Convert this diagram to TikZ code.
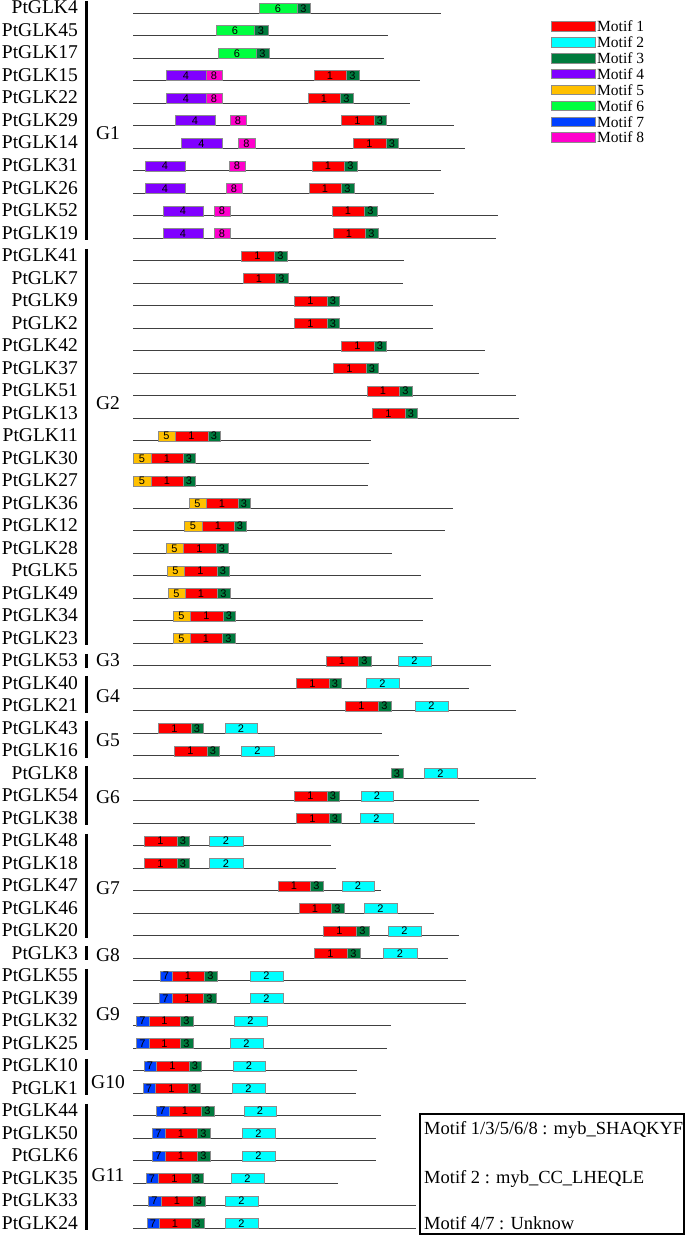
\documentclass[tikz,border=0pt]{standalone}
\usepackage{fontspec}
\setmainfont{Liberation Serif}
\setsansfont{Liberation Sans}
\usepackage{tikz}

\definecolor{m1}{RGB}{255,0,0}
\definecolor{m2}{RGB}{0,255,255}
\definecolor{m3}{RGB}{0,122,61}
\definecolor{m4}{RGB}{128,0,255}
\definecolor{m5}{RGB}{255,192,0}
\definecolor{m6}{RGB}{0,255,64}
\definecolor{m7}{RGB}{0,64,255}
\definecolor{m8}{RGB}{255,0,204}

\begin{document}
\begin{tikzpicture}[x=1pt,y=-1pt,
    genename/.style={anchor=base east, inner sep=0pt, font=\fontsize{19.5}{20}\selectfont},
    groupname/.style={inner sep=0pt, font=\fontsize{19.5}{20}\selectfont},
    geneline/.style={line width=1pt, black!75},
    groupbar/.style={line width=3pt},
    motifbox/.style={draw=black!45, line width=0.6pt, inner sep=0pt, outer sep=0pt,
        minimum height=10pt, anchor=south west, font=\sffamily\fontsize{11}{11}\selectfont},
    keybox/.style={draw=black!45, line width=0.6pt, inner sep=0pt, minimum width=44pt, minimum height=9.5pt},
    keytext/.style={anchor=west, inner sep=0pt, font=\fontsize{15.5}{16}\selectfont},
    notetext/.style={anchor=base west, inner sep=0pt, font=\fontsize{18.5}{19}\selectfont}]
\useasboundingbox (0,0) rectangle (685,1236);

% gene names and protein lines
\foreach \r/\name/\len in {1/PtGLK4/441, 2/PtGLK45/388, 3/PtGLK17/384, 4/PtGLK15/420,
    5/PtGLK22/410, 6/PtGLK29/454, 7/PtGLK14/465, 8/PtGLK31/441, 9/PtGLK26/434,
    10/PtGLK52/498, 11/PtGLK19/496, 12/PtGLK41/404, 13/PtGLK7/403, 14/PtGLK9/433,
    15/PtGLK2/433, 16/PtGLK42/485, 17/PtGLK37/479, 18/PtGLK51/516, 19/PtGLK13/519,
    20/PtGLK11/371, 21/PtGLK30/369, 22/PtGLK27/368, 23/PtGLK36/453, 24/PtGLK12/445,
    25/PtGLK28/392, 26/PtGLK5/421, 27/PtGLK49/433, 28/PtGLK34/423, 29/PtGLK23/423,
    30/PtGLK53/491, 31/PtGLK40/469, 32/PtGLK21/516, 33/PtGLK43/382, 34/PtGLK16/399,
    35/PtGLK8/536, 36/PtGLK54/479, 37/PtGLK38/475, 38/PtGLK48/331, 39/PtGLK18/336,
    40/PtGLK47/381, 41/PtGLK46/434, 42/PtGLK20/459, 43/PtGLK3/448, 44/PtGLK55/466,
    45/PtGLK39/466, 46/PtGLK32/391, 47/PtGLK25/387, 48/PtGLK10/357, 49/PtGLK1/356,
    50/PtGLK44/381, 51/PtGLK50/376, 52/PtGLK6/376, 53/PtGLK35/338, 54/PtGLK33/416,
    55/PtGLK24/416}{
  \pgfmathsetmacro\y{13.3+22.5*(\r-1)}
  \node[genename] (g\r) at (78,\y+0.7) {\name};
  \coordinate (s\r) at (133,\y);
  \coordinate (e\r) at (\len,\y);
  \draw[geneline] (s\r) -- (e\r);
}

% motif boxes: row/start/end/motif
\foreach \r/\a/\b/\m in {1/259/297/6, 1/297/310/3, 2/216/254/6, 2/254/268/3,
    3/218/256/6, 3/256/269/3,
    4/166/206/4, 4/206/222/8, 4/314/346/1, 4/346/359/3,
    5/166/206/4, 5/206/222/8, 5/308/340/1, 5/340/353/3,
    6/175/215/4, 6/230/246/8, 6/341/374/1, 6/374/386/3,
    7/181/222/4, 7/238/255/8, 7/353/386/1, 7/386/398/3,
    8/145/185/4, 8/229/245/8, 8/312/344/1, 8/344/357/3,
    9/145/185/4, 9/226/242/8, 9/309/341/1, 9/341/354/3,
    10/163/203/4, 10/214/230/8, 10/332/364/1, 10/364/377/3,
    11/163/203/4, 11/214/230/8, 11/333/365/1, 11/365/378/3,
    12/241/274/1, 12/274/287/3, 13/243/275/1, 13/275/288/3,
    14/294/327/1, 14/327/339/3, 15/294/327/1, 15/327/339/3,
    16/341/374/1, 16/374/386/3, 17/333/366/1, 17/366/378/3,
    18/367/399/1, 18/399/412/3, 19/372/405/1, 19/405/417/3,
    20/158/175/5, 20/175/208/1, 20/208/220/3,
    21/133/151/5, 21/151/183/1, 21/183/195/3,
    22/133/151/5, 22/151/183/1, 22/183/195/3,
    23/189/206/5, 23/206/238/1, 23/238/250/3,
    24/184/202/5, 24/202/234/1, 24/234/246/3,
    25/166/183/5, 25/183/216/1, 25/216/228/3,
    26/167/184/5, 26/184/217/1, 26/217/229/3,
    27/168/185/5, 27/185/217/1, 27/217/230/3,
    28/173/190/5, 28/190/223/1, 28/223/235/3,
    29/173/190/5, 29/190/222/1, 29/222/235/3,
    30/326/358/1, 30/358/371/3, 30/398/431/2,
    31/296/329/1, 31/329/341/3, 31/366/399/2,
    32/345/378/1, 32/378/391/3, 32/415/448/2,
    33/158/191/1, 33/191/203/3, 33/225/257/2,
    34/174/207/1, 34/207/219/3, 34/241/274/2,
    35/391/403/3, 35/424/457/2,
    36/294/327/1, 36/327/339/3, 36/361/393/2,
    37/296/329/1, 37/329/341/3, 37/360/393/2,
    38/144/177/1, 38/177/189/3, 38/209/243/2,
    39/144/177/1, 39/177/189/3, 39/209/243/2,
    40/278/310/1, 40/310/323/3, 40/342/374/2,
    41/299/331/1, 41/331/344/3, 41/364/397/2,
    42/323/356/1, 42/356/369/3, 42/388/421/2,
    43/314/347/1, 43/347/360/3, 43/383/417/2,
    44/160/172/7, 44/172/204/1, 44/204/217/3, 44/250/283/2,
    45/159/172/7, 45/172/203/1, 45/203/216/3, 45/250/283/2,
    46/136/149/7, 46/149/180/1, 46/180/193/3, 46/234/267/2,
    47/136/149/7, 47/149/180/1, 47/180/193/3, 47/230/263/2,
    48/144/156/7, 48/156/189/1, 48/189/201/3, 48/233/265/2,
    49/143/155/7, 49/155/188/1, 49/188/200/3, 49/232/265/2,
    50/156/169/7, 50/169/201/1, 50/201/214/3, 50/244/276/2,
    51/152/165/7, 51/165/197/1, 51/197/210/3, 51/242/275/2,
    52/152/165/7, 52/165/197/1, 52/197/210/3, 52/242/275/2,
    53/146/158/7, 53/158/191/1, 53/191/203/3, 53/231/264/2,
    54/148/161/7, 54/161/193/1, 54/193/205/3, 54/225/258/2,
    55/147/159/7, 55/159/191/1, 55/191/204/3, 55/225/258/2}{
  \pgfmathsetmacro\y{13.3+22.5*(\r-1)}
  \node[motifbox, fill=m\m, minimum width={(\b-\a)*1pt}] (m\r-\a) at (\a,\y) {\m};
}

% group bars and names: name/first row/last row/label y
\foreach \gname/\first/\last/\ly in {G1/1/11/133, G2/12/29/403, G3/30/30/660,
    G4/31/32/696, G5/33/34/740, G6/35/37/797, G7/38/42/888, G8/43/43/955,
    G9/44/47/1014, G10/48/49/1082, G11/50/55/1175}{
  \pgfmathsetmacro\ya{13.3+22.5*(\first-1)-12}
  \pgfmathsetmacro\yb{13.3+22.5*(\last-1)+2}
  \coordinate (\gname top) at (86,\ya);
  \coordinate (\gname bot) at (86,\yb);
  \draw[groupbar] (\gname top) -- (\gname bot);
  \node[groupname] (\gname) at (108,\ly) {\gname};
}

% colour key
\foreach \k/\ky in {1/26.5, 2/42.3, 3/58.2, 4/74, 5/90, 6/106, 7/121.8, 8/137.5}{
  \node[keybox, fill=m\k] (key\k) at (573,\ky) {};
  \node[keytext] (keylabel\k) at (597,\ky) {Motif \k};
}

% note box
\node[draw, line width=2pt, inner sep=0pt, minimum width=264pt, minimum height=120pt,
    anchor=north west] (note) at (419,1113) {};
\node[notetext] (note1) at (424,1134) {Motif 1/3/5/6/8 : myb\_SHAQKYF};
\node[notetext] (note2) at (424,1183) {Motif 2 : myb\_CC\_LHEQLE};
\node[notetext] (note3) at (424,1229) {Motif 4/7 : Unknow};
\end{tikzpicture}
\end{document}
